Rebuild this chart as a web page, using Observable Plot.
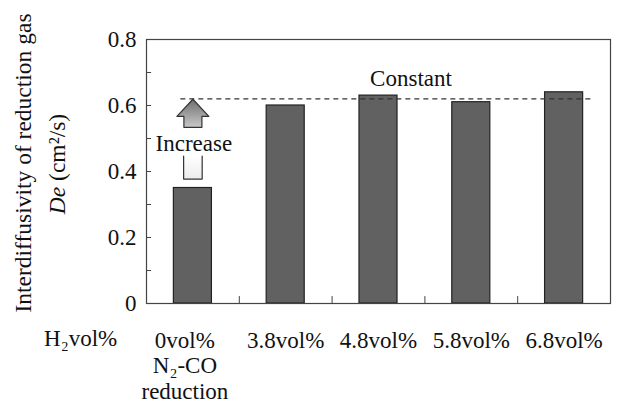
<!DOCTYPE html>
<html><head><meta charset="utf-8">
<script src="https://cdn.jsdelivr.net/npm/d3@7"></script>
<script src="https://cdn.jsdelivr.net/npm/@observablehq/plot@0.6"></script>
<style>
body{margin:0;background:#fff;}
</style>
</head><body><div id="chart"></div>
<script>
// ---- data ----
const categories = ["0vol%", "3.8vol%", "4.8vol%", "5.8vol%", "6.8vol%"];
const categoryLabels = ["0vol%\nN₂-CO\nreduction", "3.8vol%", "4.8vol%", "5.8vol%", "6.8vol%"];
const deValues = [0.35, 0.60, 0.63, 0.61, 0.64];
const yTicks = [0, 0.1, 0.2, 0.3, 0.4, 0.5, 0.6, 0.7, 0.8];
const yTickLabels = ["0", "", "0.2", "", "0.4", "", "0.6", "", "0.8"];
const constantLevel = 0.62;
const rowLabel = "H₂vol%";
const yLabelLine1 = "Interdiffusivity of reduction gas";
const annotationConstant = "Constant";
const annotationIncrease = "Increase";
// arrow outline (x offset from first category centre in category units, y in cm²/s)
const arrowDX = [0, 0.172, 0.097, 0.097, -0.097, -0.097, -0.172];
const arrowY  = [0.619, 0.567, 0.567, 0.534, 0.534, 0.567, 0.567];
const cupDX = [-0.1, -0.1, 0.1, 0.1];
const cupY  = [0.447, 0.377, 0.377, 0.447];

// ---- derived tables ----
const bars = categories.map((c, i) => ({c, i, v: deValues[i]}));
const ticksY = yTicks.map((t, i) => ({t, label: yTickLabels[i]}));
const xLabels = categoryLabels.map((l, i) => ({l, x: i + 0.5}));
const arrowPts = arrowDX.map((d, i) => ({x: 0.5 + d, y: arrowY[i]}));
const cupPts = cupDX.map((d, i) => ({x: 0.5 + d, y: cupY[i]}));
const half = 0.205;
const FONT = "'Liberation Serif', 'Times New Roman', 'DejaVu Serif', serif";
const txt = {fontSize: 23, fill: "#111", fontFamily: FONT};

const plot = Plot.plot({
  width: 617,
  height: 406,
  marginLeft: 146,
  marginRight: 7,
  marginTop: 39,
  marginBottom: 103,
  x: {domain: [0, categories.length], axis: null},
  y: {domain: [0, 0.8], axis: null},
  style: `font-family: ${FONT}; font-size: 23px; background: #fff; color: #111;`,
  marks: [
    Plot.rectY(bars, {x1: d => d.i + 0.5 - half, x2: d => d.i + 0.5 + half, y1: 0, y2: "v", fill: "#616161", stroke: "#222", strokeWidth: 1.2}),
    Plot.ruleY([constantLevel], {x1: 0.37, x2: 4.8, stroke: "#333", strokeWidth: 1.1, strokeDasharray: "5,4"}),
    Plot.ruleY(ticksY, {y: "t", x1: 0, x2: 0.055, stroke: "#444"}),
    Plot.ruleX([1, 2, 3, 4], {x: d => d, y1: 0, y2: 0.021, stroke: "#444"}),
    Plot.frame({stroke: "#444", strokeWidth: 1.2}),
    Plot.text(ticksY, {y: "t", text: "label", frameAnchor: "left", textAnchor: "end", dx: -10, letterSpacing: "0.6px", ...txt}),
    Plot.text(xLabels.slice(0, 1), {x: "x", text: "l", frameAnchor: "bottom", lineAnchor: "top", dy: 26, dx: -8, lineHeight: 1.11, letterSpacing: "0.8px", ...txt}),
    Plot.text(xLabels.slice(1), {x: "x", text: "l", frameAnchor: "bottom", lineAnchor: "top", dy: 26, lineHeight: 1.11, letterSpacing: "1.1px", ...txt}),
    Plot.text([rowLabel], {x: -0.71, text: d => d, frameAnchor: "bottom", lineAnchor: "top", dy: 26, letterSpacing: "1px", ...txt}),
    Plot.text([annotationConstant], {x: 2.85, y: 0.682, text: d => d, letterSpacing: "0.4px", ...txt}),
    Plot.text([annotationIncrease], {x: 0.51, y: 0.483, text: d => d, letterSpacing: "0.2px", ...txt}),
    Plot.line(arrowPts, {x: "x", y: "y", curve: "linear-closed", fill: "url(#arrowGrad)", stroke: "#333", strokeWidth: 1.2}),
    Plot.line(cupPts, {x: "x", y: "y", fill: "url(#cupGrad)", stroke: "#333", strokeWidth: 1.2})
  ]
});

const svg = d3.select(plot);
const defs = svg.insert("defs", ":first-child");
const g1 = defs.append("linearGradient").attr("id", "arrowGrad").attr("x1", 0).attr("y1", 0).attr("x2", 0).attr("y2", 1);
g1.append("stop").attr("offset", 0).attr("stop-color", "#6e6e6e");
g1.append("stop").attr("offset", 1).attr("stop-color", "#c8c8c8");
const g2 = defs.append("linearGradient").attr("id", "cupGrad").attr("x1", 0).attr("y1", 0).attr("x2", 0).attr("y2", 1);
g2.append("stop").attr("offset", 0).attr("stop-color", "#ffffff");
g2.append("stop").attr("offset", 1).attr("stop-color", "#ececec");

const lab = svg.append("g").attr("font-size", 23.5).attr("font-family", FONT).attr("text-anchor", "middle").attr("fill", "#111");
lab.append("text").attr("transform", "translate(23,163) rotate(-90)").attr("dy", "0.35em").text(yLabelLine1);
const t2 = lab.append("text").attr("transform", "translate(57,164) rotate(-90)").attr("dy", "0.35em");
t2.append("tspan").attr("font-style", "italic").text("De");
t2.append("tspan").text(" (cm²/s)");

document.getElementById("chart").appendChild(plot);
</script>
</body></html>
